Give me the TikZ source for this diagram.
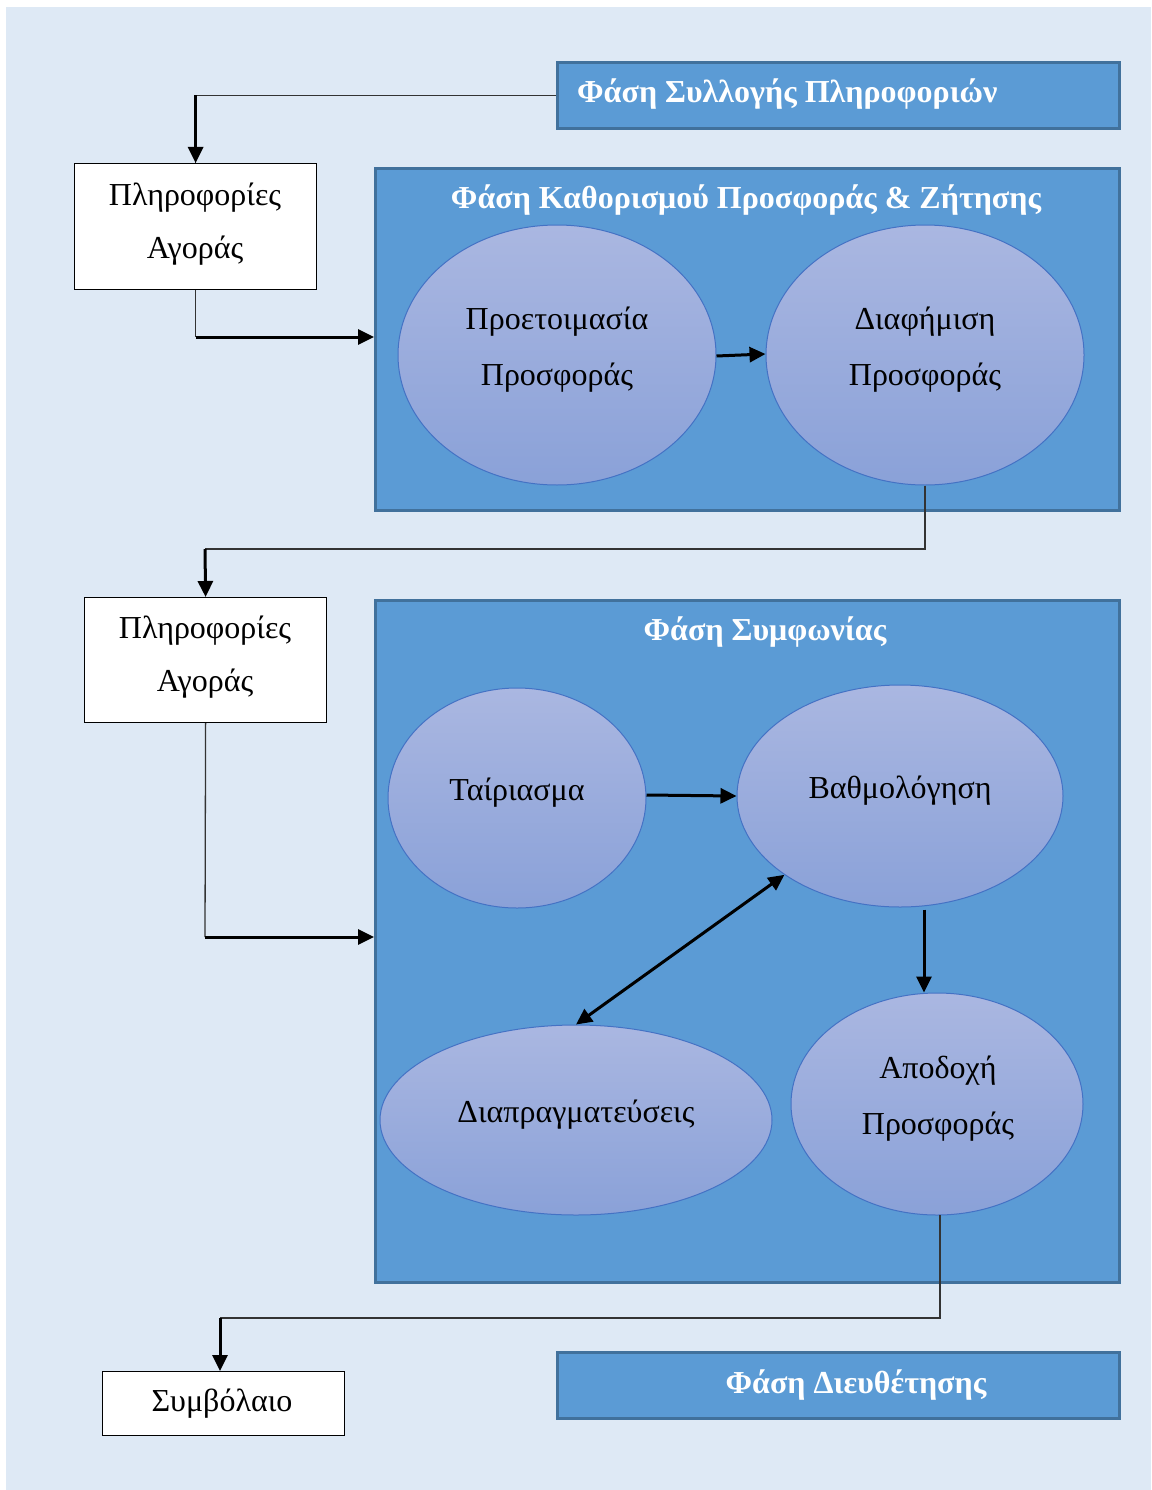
\documentclass[tikz,border=0pt]{standalone}
\usepackage{fontspec}
\setmainfont{Liberation Serif}
\usetikzlibrary{arrows.meta,shapes.geometric}
\definecolor{pagebg}{HTML}{DEE9F5}
\definecolor{panelfill}{HTML}{5B9BD5}
\definecolor{paneledge}{HTML}{41719C}
\definecolor{bubtop}{RGB}{170,183,225}
\definecolor{bubbot}{RGB}{138,161,216}
\definecolor{bubedge}{HTML}{4472C4}
\definecolor{wire}{HTML}{333333}
\begin{document}
\begin{tikzpicture}[x=1pt,y=-1pt,
  panel/.style={rectangle, draw=paneledge, line width=2.6pt, fill=panelfill,
    anchor=north west, inner sep=0pt},
  infobox/.style={rectangle, draw=black, line width=1.2pt, fill=white,
    anchor=north west, inner sep=0pt},
  bub/.style={ellipse, draw=bubedge, line width=1pt, top color=bubtop,
    bottom color=bubbot, inner sep=0pt},
  lbl/.style={anchor=base, inner sep=0pt, font=\fontsize{32}{38}\selectfont},
  ttl/.style={anchor=base, inner sep=0pt, text=white,
    font=\fontsize{32}{38}\selectfont\bfseries},
  wireline/.style={draw=wire, line width=1.3pt},
  flow/.style={draw=black, line width=3pt,
    -{Triangle[length=16pt,width=15pt]}},
  flowboth/.style={draw=black, line width=3pt,
    {Triangle[length=16pt,width=15pt]}-{Triangle[length=16pt,width=15pt]}},
]
\useasboundingbox (0,0) rectangle (1151,1490);
\fill[pagebg] (6,7) rectangle (1151,1490);

% phase panels
\node[panel, minimum width=562pt, minimum height=66pt] (sp) at (556,61) {};
\node[ttl, anchor=base west] (spt) at (577,103) {Φάση Συλλογής Πληροφοριών};

\node[panel, minimum width=744pt, minimum height=342pt] (p1) at (374,167) {};
\node[ttl] (p1t) at (746,208) {Φάση Καθορισμού Προσφοράς \& Ζήτησης};

\node[panel, minimum width=744pt, minimum height=682pt] (p2) at (374,599) {};
\node[ttl] (p2t) at (765,640) {Φάση Συμφωνίας};

\node[panel, minimum width=562pt, minimum height=66pt] (sd) at (556,1351) {};
\node[ttl] (sdt) at (856,1393) {Φάση Διευθέτησης};

% information boxes
\node[infobox, minimum width=242pt, minimum height=126pt] (b1) at (74,163) {};
\node[lbl] (b1a) at (195,205) {Πληροφορίες};
\node[lbl] (b1b) at (195,258) {Αγοράς};

\node[infobox, minimum width=242pt, minimum height=125pt] (b2) at (84,597) {};
\node[lbl] (b2a) at (205,638) {Πληροφορίες};
\node[lbl] (b2b) at (205,691) {Αγοράς};

\node[infobox, minimum width=242pt, minimum height=64pt] (b3) at (102,1371) {};
\node[lbl] (b3a) at (222,1411) {Συμβόλαιο};

% activity ellipses
\node[bub, minimum width=318pt, minimum height=260pt] (e1) at (557,355) {};
\node[lbl] (e1a) at (557,329) {Προετοιμασία};
\node[lbl] (e1b) at (557,385) {Προσφοράς};

\node[bub, minimum width=318pt, minimum height=260pt] (e2) at (925,355) {};
\node[lbl] (e2a) at (925,329) {Διαφήμιση};
\node[lbl] (e2b) at (925,385) {Προσφοράς};

\node[bub, minimum width=258pt, minimum height=220pt] (tr) at (517,798) {};
\node[lbl] (tra) at (517,800) {Ταίριασμα};

\node[bub, minimum width=326pt, minimum height=222pt] (bt) at (900,796) {};
\node[lbl] (bta) at (900,798) {Βαθμολόγηση};

\node[bub, minimum width=292pt, minimum height=222pt] (ac) at (937,1104) {};
\node[lbl] (aca) at (938,1078) {Αποδοχή};
\node[lbl] (acb) at (938,1134) {Προσφοράς};

\node[bub, minimum width=392pt, minimum height=190pt] (dp) at (576,1120) {};
\node[lbl] (dpa) at (576,1122) {Διαπραγματεύσεις};

% junction points of the connectors
\coordinate (j1) at (205,549);
\coordinate (j2) at (205,937);
\coordinate (j3) at (220,1318);
\coordinate (k3) at (940,1215);

% connectors
\draw[wireline] (sp.west) -| (b1.north);
\draw[flow] (sp.west -| b1.north) -- (b1.north);

\draw[wireline] (b1.south) -- (b1.south |- 0,337);
\draw[flow] (b1.south |- 0,337) -- (p1.west |- 0,337);

\draw[flow] ([yshift=-1pt]e1.east) -- ([yshift=1pt]e2.west);

\draw[wireline] (e2.south) |- (j1);
\draw[flow] (j1) -- (b2.north);

\draw[wireline] (b2.south) -- (j2);
\draw[flow] (j2) -- (j2 -| p2.west);

\draw[flow] ([yshift=3pt]tr.east) -- (bt.west);
\draw[flow] ([xshift=24pt,yshift=-2pt]bt.south) -- ([xshift=24pt]bt.south |- ac.north);
\draw[flowboth] (dp.north) -- (bt.south west);

\draw[wireline] (k3) |- (j3);
\draw[flow] (j3) -- (j3 |- b3.north);
\end{tikzpicture}
\end{document}
